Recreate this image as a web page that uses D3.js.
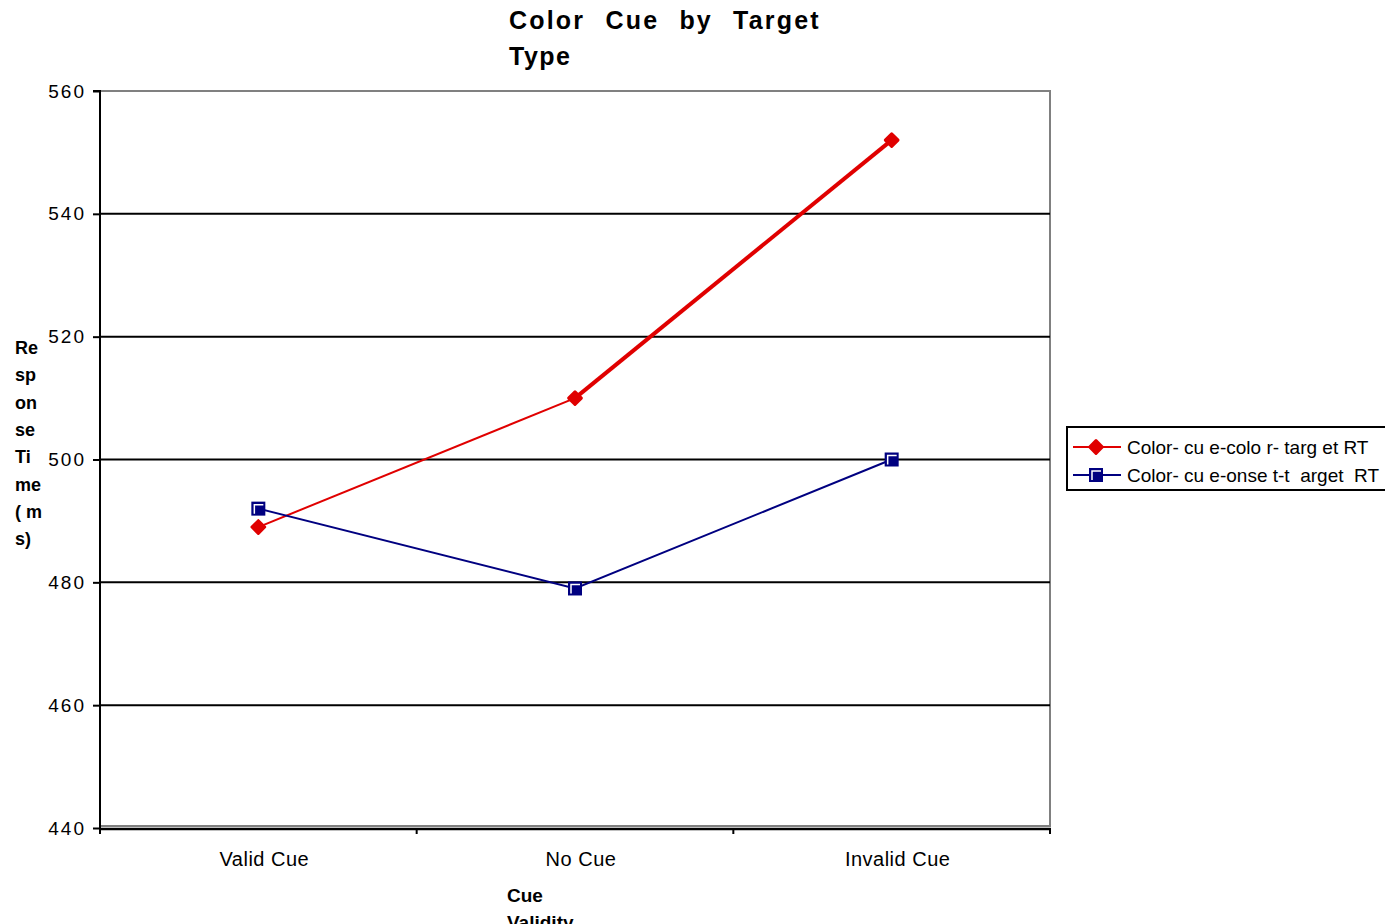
<!DOCTYPE html>
<html>
<head>
<meta charset="utf-8">
<script src="https://cdn.jsdelivr.net/npm/d3@7"></script>
<style>
  html, body { margin: 0; padding: 0; background: #fff; }
  svg { display: block; font-family: "Liberation Sans", Arial, sans-serif; }
</style>
</head>
<body>
<svg id="chart" width="1385" height="924"></svg>
<script>
// Response times (ms) by cue validity
const categories = ["Valid Cue", "No Cue", "Invalid Cue"];
const colorTarget = [489, 510, 552];
const onsetTarget = [492, 479, 500];
const seriesNames = ["Color- cu e-colo r- targ et RT", "Color- cu e-onse t-t  arget  RT"];
const yTicks = [440, 460, 480, 500, 520, 540, 560];

const svg = d3.select("#chart");
const plotL = 100, plotR = 1050, plotT = 91, plotB = 828;

const x = d3.scaleBand().domain(categories).range([plotL, plotR]).padding(0);
const y = d3.scaleLinear().domain([440, 560]).range([plotB, plotT]);
const cx = c => x(c) + x.bandwidth() / 2;

// plot frame (grey top/right/bottom)
svg.append("rect")
  .attr("x", plotL).attr("y", plotT)
  .attr("width", plotR - plotL).attr("height", plotB - 2 - plotT)
  .attr("fill", "none").attr("stroke", "#808080").attr("stroke-width", 2);

// horizontal gridlines
svg.append("g").selectAll("line")
  .data(yTicks.filter(v => v > 440 && v < 560))
  .join("line")
  .attr("x1", plotL).attr("x2", plotR)
  .attr("y1", d => y(d)).attr("y2", d => y(d))
  .attr("stroke", "#000").attr("stroke-width", 2);

// y axis
const yAxis = d3.axisLeft(y).tickValues(yTicks).tickSize(7).tickPadding(7);
const gy = svg.append("g").attr("transform", `translate(${plotL},0)`).call(yAxis);
gy.select(".domain").attr("stroke", "#000").attr("stroke-width", 2).attr("d", `M-7,${plotT}H0V${plotB + 1}`);
gy.selectAll(".tick line").attr("stroke", "#000").attr("stroke-width", 2);
gy.selectAll(".tick text")
  .attr("font-size", 19).attr("fill", "#000").attr("letter-spacing", "2px")
  .attr("font-family", "'Liberation Sans', Arial, sans-serif");

// x axis
const gx = svg.append("g").attr("transform", `translate(0,${plotB + 1})`);
gx.append("line").attr("x1", plotL).attr("x2", plotR + 1).attr("y1", 0).attr("y2", 0)
  .attr("stroke", "#000").attr("stroke-width", 2.5);
const xTickPos = categories.map(c => x(c)).concat([plotR]);
gx.selectAll("line.tk").data(xTickPos).join("line").attr("class", "tk")
  .attr("x1", d => d).attr("x2", d => d).attr("y1", 0).attr("y2", 5)
  .attr("stroke", "#000").attr("stroke-width", 2);
gx.selectAll("text").data(categories).join("text")
  .attr("x", d => cx(d) + 6).attr("y", 37)
  .attr("text-anchor", "middle").attr("font-size", 20).attr("fill", "#000")
  .attr("letter-spacing", "0.5px")
  .text(d => d);

// title
svg.append("text").attr("x", 509).attr("y", 29).attr("font-size", 25).attr("font-weight", "bold")
  .attr("letter-spacing", "2.2px").attr("word-spacing", "11px").text("Color Cue by Target");
svg.append("text").attr("x", 509).attr("y", 65).attr("font-size", 25).attr("font-weight", "bold")
  .attr("letter-spacing", "1.5px").text("Type");

// y axis title, wrapped narrowly
const yTitle = ["Re", "sp", "on", "se", "Ti", "me", "( m", "s)"];
svg.append("g").selectAll("text").data(yTitle).join("text")
  .attr("x", 15).attr("y", (d, i) => 354 + i * 27.3)
  .attr("font-size", 18).attr("font-weight", "bold").text(d => d);

// x axis title
svg.append("text").attr("x", 507).attr("y", 902).attr("font-size", 19).attr("font-weight", "bold").text("Cue");
svg.append("text").attr("x", 507).attr("y", 929).attr("font-size", 19).attr("font-weight", "bold").text("Validity");

// series
const red = "#e00000", navy = "#000080";
function segments(vals) {
  return d3.pairs(vals.map((v, i) => [cx(categories[i]), y(v)]));
}
// colour-target series: last segment drawn heavier
svg.append("g").selectAll("line").data(segments(colorTarget)).join("line")
  .attr("x1", d => d[0][0]).attr("y1", d => d[0][1])
  .attr("x2", d => d[1][0]).attr("y2", d => d[1][1])
  .attr("stroke", red).attr("stroke-width", (d, i) => i === 1 ? 4 : 2);

svg.append("path")
  .datum(onsetTarget)
  .attr("d", d3.line().x((d, i) => cx(categories[i])).y(d => y(d)))
  .attr("fill", "none").attr("stroke", navy).attr("stroke-width", 2);

function diamond(g, px, py) {
  g.append("rect").attr("x", -6).attr("y", -6).attr("width", 12).attr("height", 12)
    .attr("rx", 1.5)
    .attr("transform", `translate(${px},${py}) rotate(45)`).attr("fill", red);
}
function square(g, px, py) {
  g.append("rect").attr("x", px - 7).attr("y", py - 7).attr("width", 14).attr("height", 14)
    .attr("fill", navy);
  g.append("path").attr("d", `M${px - 4},${py + 5}V${py - 4}H${px + 5}`)
    .attr("fill", "none").attr("stroke", "#fff").attr("stroke-width", 1.5);
}
const mk = svg.append("g");
colorTarget.forEach((v, i) => diamond(mk, cx(categories[i]), y(v)));
onsetTarget.forEach((v, i) => square(mk, cx(categories[i]), y(v)));

// legend
const lg = svg.append("g");
lg.append("rect").attr("x", 1067).attr("y", 427).attr("width", 330).attr("height", 63)
  .attr("fill", "#fff").attr("stroke", "#000").attr("stroke-width", 2);
[[red, 447, diamond], [navy, 475, square]].forEach(([col, ly, fn], i) => {
  lg.append("line").attr("x1", 1073).attr("x2", 1121).attr("y1", ly).attr("y2", ly)
    .attr("stroke", col).attr("stroke-width", 2);
  fn(lg, 1096, ly);
  lg.append("text").attr("x", 1127).attr("y", ly + 7).attr("font-size", 19)
    .attr("xml:space", "preserve").style("white-space", "pre").text(seriesNames[i]);
});
</script>
</body>
</html>
